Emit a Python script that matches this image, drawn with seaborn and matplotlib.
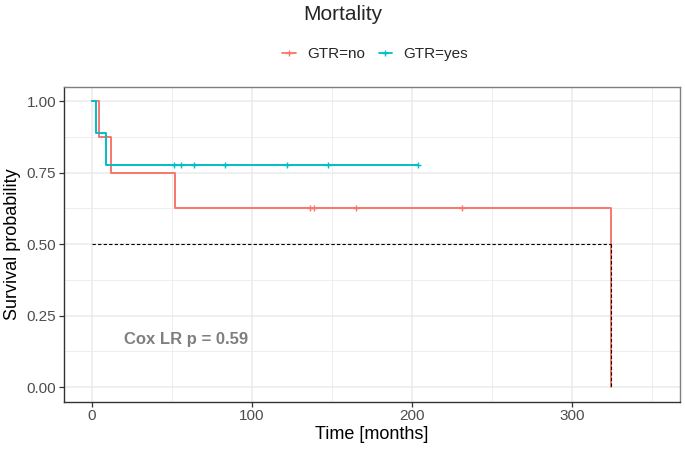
import numpy as np
import pandas as pd
import matplotlib
matplotlib.use("Agg")
import matplotlib.pyplot as plt
import matplotlib.lines as mlines
import seaborn as sns

# follow-up (months) and event flag (1 = death, 0 = censored) per group
time_no = [4.6, 11.7, 52.0, 136.0, 138.5, 165.0, 231.0, 324.5]
event_no = [1, 1, 1, 0, 0, 0, 0, 1]
time_yes = [2.5, 9.0, 51.4, 55.8, 63.8, 83.0, 121.7, 147.7, 204.0]
event_yes = [1, 1, 0, 0, 0, 0, 0, 0, 0]

groups = ["GTR=no", "GTR=yes"]
colors = {"GTR=no": "#F8766D", "GTR=yes": "#00BFC4"}
p_text = "Cox LR p = 0.59"


def km_table(times, events, label):
    t = np.array(times)
    e = np.array(events)
    order = np.argsort(t)
    t, e = t[order], e[order]
    n = len(t)
    s = 1.0
    curve = [(0.0, 1.0)]
    cens = []
    for i, (ti, ei) in enumerate(zip(t, e)):
        at_risk = n - i
        if ei == 1:
            s = s * (at_risk - 1) / at_risk
            curve.append((ti, s))
        else:
            cens.append((ti, s))
    if curve[-1][0] < t[-1]:
        curve.append((t[-1], s))
    c = pd.DataFrame(curve, columns=["time", "surv"])
    c["group"] = label
    k = pd.DataFrame(cens, columns=["time", "surv"])
    k["group"] = label
    return c, k


c_no, k_no = km_table(time_no, event_no, groups[0])
c_yes, k_yes = km_table(time_yes, event_yes, groups[1])
curves = pd.concat([c_no, c_yes], ignore_index=True)
censors = pd.concat([k_no, k_yes], ignore_index=True)

sns.set_style("white")
plt.rcParams["font.family"] = ["Liberation Sans", "DejaVu Sans"]

dpi = 100
fig = plt.figure(figsize=(6.85, 4.53), dpi=dpi)
ax = fig.add_axes([64 / 685, 1 - 401.7 / 453, (680 - 64) / 685, (401.7 - 87) / 453])

# grid
ax.set_xticks([0, 100, 200, 300])
ax.set_xticks([50, 150, 250, 350], minor=True)
ax.set_yticks([0, 0.25, 0.5, 0.75, 1.0])
ax.set_yticks([0.125, 0.375, 0.625, 0.875], minor=True)
ax.grid(which="major", color="#EBEBEB", lw=1.1)
ax.grid(which="minor", color="#EBEBEB", lw=0.6)
ax.set_axisbelow(True)

for g in groups:
    sub = curves[curves["group"] == g]
    sns.lineplot(data=sub, x="time", y="surv", drawstyle="steps-post",
                 color=colors[g], lw=1.4, ax=ax, sort=False)
    subc = censors[censors["group"] == g]
    ax.scatter(subc["time"], subc["surv"], marker="+", s=18,
               color=colors[g], linewidths=1.0, zorder=3)

# median line, drawn over the curves
median_t = c_no.loc[c_no["surv"] <= 0.5, "time"].iloc[0]
ax.plot([0, median_t], [0.5, 0.5], ls=(0, (3, 2)), color="black", lw=0.8, zorder=4)
ax.plot([median_t, median_t], [0.5, 0], ls=(0, (3, 2)), color="black", lw=0.8, zorder=4)

ax.set_xlim(-17.5, 367.5)
ax.set_ylim(-0.051, 1.049)
ax.yaxis.set_major_formatter(matplotlib.ticker.FormatStrFormatter("%.2f"))

ax.text(20, 0.165, p_text, fontsize=12, fontweight="bold", color="#7F7F7F",
        ha="left", va="center")

ax.set_xlabel("Time [months]", fontsize=13, color="black", labelpad=2)
ax.set_ylabel("Survival probability", fontsize=13, color="black", labelpad=4)
ax.tick_params(axis="both", which="major", length=3.5, width=0.9, color="#333333",
               labelsize=11, labelcolor="#4D4D4D", direction="out", pad=2)
ax.tick_params(axis="both", which="minor", length=0)
ax.tick_params(bottom=True, left=True)

for side in ["left", "bottom"]:
    ax.spines[side].set_color("#333333")
    ax.spines[side].set_linewidth(1.0)
for side in ["top", "right"]:
    ax.spines[side].set_color("#7F7F7F")
    ax.spines[side].set_linewidth(1.0)

handles = [mlines.Line2D([], [], color=colors[g], marker="+", markersize=5,
                         lw=1.3, label=g) for g in groups]
fig.legend(handles=handles, loc="center", bbox_to_anchor=(375 / 685, 1 - 54 / 453),
           ncol=2, frameon=False, fontsize=11, handlelength=0.9,
           columnspacing=0.9, handletextpad=0.7)

fig.text(0.5, 1 - 14 / 453, "Mortality", ha="center", va="center", fontsize=15)

fig.savefig("out.png", dpi=dpi)
